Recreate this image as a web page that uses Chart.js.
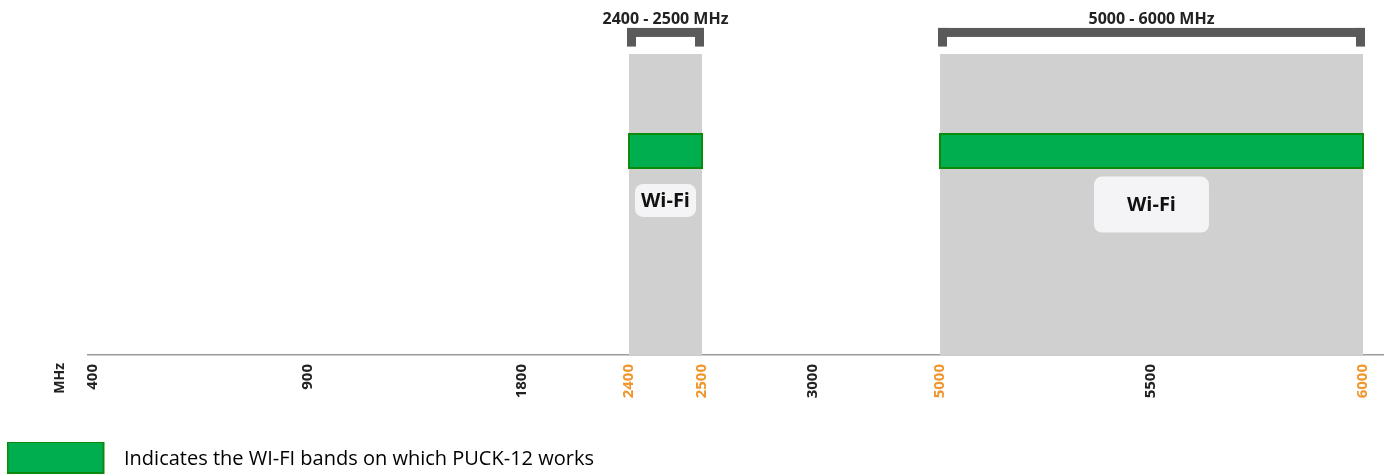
<!DOCTYPE html>
<html>
<head>
<meta charset="utf-8">
<script src="https://cdn.jsdelivr.net/npm/chart.js@4.4.1/dist/chart.umd.min.js"></script>
<style>
  html, body { margin: 0; padding: 0; background: #ffffff; }
  #wrap { width: 1387px; height: 475px; position: relative; }
</style>
</head>
<body>
<div id="wrap"><canvas id="chart"></canvas></div>
<script>
// ---------------- DATA ----------------
const tickFreqs = [400, 900, 1800, 2400, 2500, 3000, 5000, 5500, 6000];
const tickLabels = ['400', '900', '1800', '2400', '2500', '3000', '5000', '5500', '6000'];
const highlightedFreqs = [2400, 2500, 5000, 6000];
const bandStart = [2400, 5000];
const bandEnd = [2500, 6000];
const bandNames = ['Wi-Fi', 'Wi-Fi'];
const supportedStart = [2400, 5000];
const supportedEnd = [2500, 6000];
const axisUnit = 'MHz';
const legendText = 'Indicates the WI-FI bands on which PUCK-12 works';

// ---------------- AXIS LAYOUT / STYLE ----------------
const tickSlots = [5, 220, 434, 541, 614, 725, 852, 1063, 1275]; // non-linear axis stops
const X_MIN = 0, X_MAX = 1295;
const BAND_TOP = 87.25, BAR_HI = 64.06, BAR_LO = 54.2;
const BRACKET_TOP = 94.8, BRACKET_LEG = 89.4, RANGE_LABEL_Y = 97.4;
const bandLabelStyle = [{ y: 44.8, w: 61, h: 33 }, { y: 43.6, w: 115, h: 56 }];
const GRAY = '#D0D0D0', GREEN = '#00AD4F', GREEN_DARK = '#0B8A0B';
const ORANGE = '#F0962D', DARK = '#222222', BRACKET_COLOR = '#5A5A5A';
const FONT = '"Open Sans", "DejaVu Sans", sans-serif';

function toSlot(f) {
  const n = tickFreqs.length;
  let i = 0;
  while (i < n - 2 && f > tickFreqs[i + 1]) i++;
  const t = (f - tickFreqs[i]) / (tickFreqs[i + 1] - tickFreqs[i]);
  return tickSlots[i] + t * (tickSlots[i + 1] - tickSlots[i]);
}

// legend swatch
const swatch = document.createElement('canvas');
swatch.width = 108; swatch.height = 40;
(function () {
  const c = swatch.getContext('2d');
  c.fillStyle = GREEN; c.fillRect(0, 2, 98, 33);
  c.strokeStyle = GREEN_DARK; c.lineWidth = 2; c.strokeRect(1, 3, 96, 31);
})();

const datasets = [];
bandStart.forEach((s, i) => {
  datasets.push({
    label: 'band ' + s,
    data: [{ x: toSlot(s), y: BAND_TOP }, { x: toSlot(bandEnd[i]), y: BAND_TOP }],
    fill: 'origin', backgroundColor: GRAY, borderColor: 'rgba(0,0,0,0)', borderWidth: 0,
    pointRadius: 0, order: 30
  });
});
supportedStart.forEach((s, i) => {
  const a = toSlot(s), b = toSlot(supportedEnd[i]);
  datasets.push({
    label: 'supported ' + s,
    data: [{ x: a, y: BAR_HI }, { x: b, y: BAR_HI }],
    fill: { value: BAR_LO }, backgroundColor: GREEN, borderColor: 'rgba(0,0,0,0)', borderWidth: 0,
    pointRadius: 0, order: 20
  });
  datasets.push({
    label: 'supported outline ' + s,
    data: [{ x: a, y: BAR_LO }, { x: a, y: BAR_HI }, { x: b, y: BAR_HI }, { x: b, y: BAR_LO }, { x: a, y: BAR_LO }],
    fill: false, borderColor: GREEN_DARK, borderWidth: 2, pointRadius: 0,
    borderJoinStyle: 'miter', borderCapStyle: 'square', tension: 0, order: 10
  });
});

const annotate = {
  id: 'annotate',
  afterDatasetsDraw(chart) {
    const { ctx, scales: { x, y } } = chart;
    ctx.save();
    bandStart.forEach((s, i) => {
      const x0 = x.getPixelForValue(toSlot(s));
      const x1 = x.getPixelForValue(toSlot(bandEnd[i]));
      const cx = (x0 + x1) / 2;
      // bracket
      const bt = y.getPixelForValue(BRACKET_TOP), bb = y.getPixelForValue(BRACKET_LEG);
      const L = x0 - 2, R = x1 + 2, th = 9;
      ctx.fillStyle = BRACKET_COLOR;
      ctx.fillRect(L, bt, R - L, th);
      ctx.fillRect(L, bt, th, bb - bt);
      ctx.fillRect(R - th, bt, th, bb - bt);
      // range label
      ctx.fillStyle = DARK;
      ctx.font = 'bold 16px ' + FONT;
      ctx.textAlign = 'center';
      ctx.textBaseline = 'middle';
      ctx.fillText(s + ' - ' + bandEnd[i] + ' MHz', cx, y.getPixelForValue(RANGE_LABEL_Y));
      // band name box
      const st = bandLabelStyle[i];
      const by = y.getPixelForValue(st.y);
      ctx.fillStyle = '#F4F4F6';
      ctx.beginPath();
      ctx.roundRect(cx - st.w / 2, by - st.h / 2, st.w, st.h, 8);
      ctx.fill();
      ctx.fillStyle = '#111111';
      ctx.font = 'bold 20px ' + FONT;
      ctx.fillText(bandNames[i], cx, by + 1);
    });
    // axis unit
    ctx.translate(x.left - 28, x.top + 8);
    ctx.rotate(-Math.PI / 2);
    ctx.textAlign = 'right';
    ctx.textBaseline = 'middle';
    ctx.fillStyle = DARK;
    ctx.font = 'bold 14px ' + FONT;
    ctx.fillText(axisUnit, 0, 0);
    ctx.restore();
  }
};

new Chart(document.getElementById('chart'), {
  type: 'line',
  data: { datasets },
  plugins: [annotate],
  options: {
    responsive: true,
    maintainAspectRatio: false,
    animation: false,
    layout: { padding: { left: 0, right: 4, top: 10, bottom: -4 } },
    plugins: {
      tooltip: { enabled: false },
      legend: {
        position: 'bottom',
        align: 'start',
        onClick: null,
        labels: {
          usePointStyle: true,
          pointStyleWidth: 107,
          padding: 7,
          color: '#555555',
          font: { family: FONT, size: 20 },
          generateLabels: () => [{
            text: legendText, pointStyle: swatch, fillStyle: GREEN,
            strokeStyle: GREEN_DARK, lineWidth: 0, hidden: false, datasetIndex: 0
          }]
        }
      }
    },
    scales: {
      x: {
        type: 'linear',
        min: X_MIN, max: X_MAX,
        grid: { display: false },
        border: { display: true, color: '#9A9A9A', width: 1.5 },
        afterBuildTicks: (scale) => { scale.ticks = tickSlots.map(v => ({ value: v })); },
        afterFit: (scale) => { scale.height = 87; },
        ticks: {
          autoSkip: false,
          minRotation: 90, maxRotation: 90,
          padding: 1,
          font: { family: FONT, size: 15, weight: 'bold' },
          color: (c) => highlightedFreqs.includes(tickFreqs[c.index]) ? ORANGE : DARK,
          callback: (v, i) => tickLabels[i]
        }
      },
      y: {
        type: 'linear', display: true, min: 0, max: 100,
        grid: { display: false },
        border: { display: false },
        ticks: { display: false },
        afterFit: (scale) => { scale.width = 88; }
      }
    }
  }
});
</script>
</body>
</html>
